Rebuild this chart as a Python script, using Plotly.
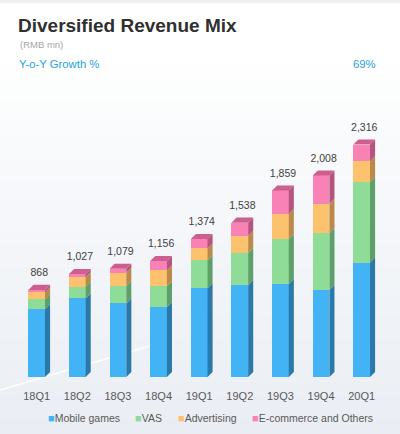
import plotly.graph_objects as go

# Revenue by segment, RMB mn
quarters = ['18Q1', '18Q2', '18Q3', '18Q4', '19Q1', '19Q2', '19Q3', '19Q4', '20Q1']
totals = [868, 1027, 1079, 1156, 1374, 1538, 1859, 2008, 2316]
mobile_games = [676, 783, 733, 696, 884, 913, 926, 866, 1140]
vas = [97, 116, 173, 207, 280, 323, 450, 567, 800]
advertising = [70, 94, 133, 160, 117, 170, 250, 293, 210]
ecommerce = [25, 34, 40, 93, 93, 132, 233, 282, 166]
yoy_growth = '69%'

series = [
    ('Mobile games', mobile_games, '#42b4f6', '#2b79a8'),
    ('VAS', vas, '#8fdc98', '#5f9f6a'),
    ('Advertising', advertising, '#fdc26e', '#b98a4b'),
    ('E-commerce and Others', ecommerce, '#f882b6', '#b4557f'),
]
top_face = '#cc5f8e'

W, H = 400, 434
bar_w = 0.41   # front face width (x units)
dx = 0.125     # depth of the 3d side, x units
dy = 50        # depth of the 3d side, y units

fig = go.Figure()

# soft slide background gradient
n_bands = 60
for k in range(n_bands):
    t = k / (n_bands - 1)
    c0, c1 = (255, 255, 255), (234, 238, 244)
    f = max(0.0, min(1.0, (t - 0.12) / 0.88)) ** 0.9
    col = tuple(round(a + (b - a) * f) for a, b in zip(c0, c1))
    fig.add_shape(type='rect', xref='paper', yref='paper', layer='below',
                  x0=0, x1=1, y0=1 - (k + 1) / n_bands, y1=1 - k / n_bands + 0.002,
                  fillcolor='rgb(%d,%d,%d)' % col, line_width=0)
fig.add_shape(type='rect', xref='paper', yref='paper', layer='below',
              x0=0, x1=1, y0=1 - 3 / H, y1=1, fillcolor='#eeeeee', line_width=0)
fig.add_shape(type='line', xref='paper', yref='paper', layer='below',
              x0=0, y0=1 - 390 / H, x1=170 / W, y1=1 - 340 / H,
              line=dict(color='rgba(255,255,255,0.9)', width=1.5))

xs = list(range(len(quarters)))

# front faces
for name, vals, col, _ in series:
    fig.add_trace(go.Bar(x=xs, y=vals, name=name, width=bar_w,
                         marker=dict(color=col, line_width=0), showlegend=False))

# side faces (parallelograms built from the stacked values)
base = [0] * len(xs)
for name, vals, _, side in series:
    px_, py_ = [], []
    for i, v in enumerate(vals):
        xr = i + bar_w / 2
        b0, b1 = base[i], base[i] + v
        px_ += [xr, xr + dx, xr + dx, xr, xr, None]
        py_ += [b0, b0 + dy, b1 + dy, b1, b0, None]
        base[i] = b1
    fig.add_trace(go.Scatter(x=px_, y=py_, mode='lines', fill='toself', fillcolor=side,
                             line=dict(width=0, color=side), hoverinfo='skip', showlegend=False))

# top faces
tx, ty = [], []
for i, tot in enumerate(base):
    xl, xr = i - bar_w / 2, i + bar_w / 2
    tx += [xl, xl + dx, xr + dx, xr, xl, None]
    ty += [tot, tot + dy, tot + dy, tot, tot, None]
fig.add_trace(go.Scatter(x=tx, y=ty, mode='lines', fill='toself', fillcolor=top_face,
                         line=dict(width=0, color=top_face), hoverinfo='skip', showlegend=False))

# totals above the bars (centred over front + side)
fig.add_trace(go.Scatter(x=[x + dx / 2 for x in xs], y=[t + dy + 60 for t in totals],
                         mode='text', text=[f'{t:,}' for t in totals], textposition='top center',
                         textfont=dict(size=10.5, color='#404040'),
                         hoverinfo='skip', showlegend=False))


def py(p):
    return 1 - p / H


anns = [
    dict(x=16 / W, y=py(25), text='<b>Diversified Revenue Mix</b>',
         font=dict(size=19, color='#303030')),
    dict(x=18 / W, y=py(45), text='(RMB mn)', font=dict(size=9.5, color='#a6a6a6')),
    dict(x=17 / W, y=py(64), text='Y-o-Y Growth %', font=dict(size=11.3, color='#1fa3dd')),
    dict(x=378 / W, y=py(64), text=yoy_growth, font=dict(size=11.3, color='#1fa3dd'),
         xanchor='right'),
]
leg_x = [46, 133, 176, 250]
for (name, _, col, _), lx in zip(series, leg_x):
    anns.append(dict(x=lx / W, y=py(418),
                     text=f"<span style='color:{col};font-size:11px'>■</span>{name}",
                     font=dict(size=10.5, color='#595959')))
for a in anns:
    a.setdefault('xanchor', 'left')
    fig.add_annotation(xref='paper', yref='paper', yanchor='middle', showarrow=False, **a)

fig.update_xaxes(range=[-0.903, 8.943], domain=[0, 1],
                 tickvals=xs, ticktext=quarters,
                 tickfont=dict(size=11, color='#595959', family='Liberation Sans, Arial'),
                 ticks='outside', ticklen=9, tickcolor='rgba(0,0,0,0)',
                 showgrid=False, zeroline=False, showline=False, fixedrange=True)
fig.update_yaxes(range=[0, 2760], domain=[1 - 377 / H, 1 - 100 / H],
                 visible=False, fixedrange=True)

fig.update_layout(
    width=W, height=H,
    barmode='stack', bargap=0,
    margin=dict(l=0, r=0, t=0, b=0),
    paper_bgcolor='#ffffff', plot_bgcolor='rgba(0,0,0,0)',
    font=dict(family='Liberation Sans, Arial, sans-serif'),
    showlegend=False,
)

# page body has an 8px default margin; drop it so the figure fills the window
fig.write_html('out.html', config={'displayModeBar': False},
               post_script="document.body.style.margin='0';")
